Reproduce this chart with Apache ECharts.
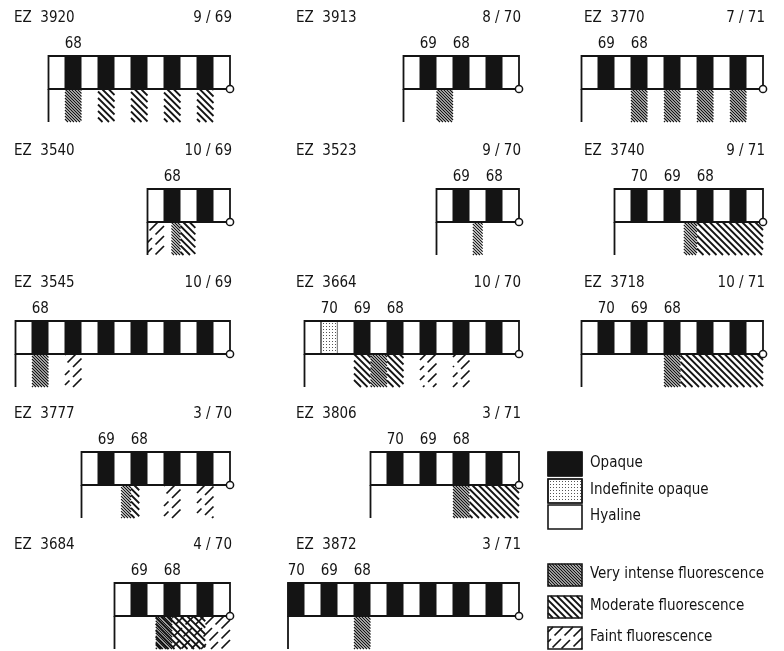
<!DOCTYPE html>
<html><head><meta charset="utf-8">
<script src="https://cdn.jsdelivr.net/npm/echarts@6/dist/echarts.min.js"></script>
<style>html,body{margin:0;padding:0;background:#fff}#c{width:784px;height:651px}</style>
</head><body><div id="c"></div>
<script>
// ---------------- DATA ----------------
const panelNames = ['EZ 3920','EZ 3913','EZ 3770','EZ 3540','EZ 3523','EZ 3740','EZ 3545','EZ 3664','EZ 3718','EZ 3777','EZ 3806','EZ 3684','EZ 3872'];
const panelDates = ['9/69','8/70','7/71','10/69','9/70','9/71','10/69','10/70','10/71','3/70','3/71','4/70','3/71'];
// O = opaque, I = indefinite opaque, H = hyaline (from centre to edge)
const bandSequences = [
  'HOHOHOHOHOH', 'HOHOHOH', 'HOHOHOHOHOH',
  'HOHOH', 'HOHOH', 'HOHOHOHOH',
  'HOHOHOHOHOHOH', 'HIHOHOHOHOHOH', 'HOHOHOHOHOH',
  'HOHOHOHOH', 'HOHOHOHOH',
  'HOHOHOH', 'OHOHOHOHOHOHOH'
];
// [band index, year]
const yearLabels = [
  [[1,'68']], [[1,'69'],[3,'68']], [[1,'69'],[3,'68']],
  [[1,'68']], [[1,'69'],[3,'68']], [[1,'70'],[3,'69'],[5,'68']],
  [[1,'68']], [[1,'70'],[3,'69'],[5,'68']], [[1,'70'],[3,'69'],[5,'68']],
  [[1,'69'],[3,'68']], [[1,'70'],[3,'69'],[5,'68']],
  [[1,'69'],[3,'68']], [[0,'70'],[2,'69'],[4,'68']]
];
// [from band, to band, V = very intense, M = moderate, F = faint]
const fluorescence = [
  [[1,2,'V'],[3,4,'M'],[5,6,'M'],[7,8,'M'],[9,10,'M']],
  [[2,3,'V']],
  [[3,4,'V'],[5,6,'V'],[7,8,'V'],[9,10,'V']],
  [[0,1,'F'],[1.45,2,'V'],[2,2.9,'M']],
  [[2.2,2.8,'V']],
  [[4.2,5,'V'],[5,9,'M']],
  [[1,2,'V'],[3,4,'F']],
  [[3,4,'M'],[4,5,'V'],[5,6,'M'],[7,8,'F'],[9,10,'F']],
  [[5,6,'V'],[6,11,'M']],
  [[2.4,3,'V'],[3,3.5,'M'],[5,6,'F'],[7,8,'F']],
  [[5,6,'V'],[6,9,'M']],
  [[2.5,3.5,'V'],[2.5,5.5,'M'],[3.5,7,'F']],
  [[4,5,'V']]
];
const legendBandKinds = [['O','Opaque'],['I','Indefinite opaque'],['H','Hyaline']];
const legendFluorKinds = [['V','Very intense fluorescence'],['M','Moderate fluorescence'],['F','Faint fluorescence']];

// ---------------- LAYOUT ----------------
const panelCol = [0,1,2,0,1,2,0,1,2,0,1,0,1];
const panelRow = [0,0,0,1,1,1,2,2,2,3,3,4,4];
const colRight = [230,519,763];
const colTitleX = [14,296,584];
const rowTop = [56,189,321,452,583];
const BW = 16.5, BH = 33, SH = 33;
const INK = '#141414';
const FONT = "'DejaVu Sans Condensed','DejaVu Sans',sans-serif";
const FS = 15;

function hatchLines(x0,y0,x1,y1,kind){
  const cfg = {V:{sp:3,lw:1.15,dir:1,dash:null},M:{sp:6.5,lw:1.8,dir:1,dash:null},F:{sp:10,lw:1.7,dir:-1,dash:[12,5]}}[kind];
  const out = [];
  const st = {stroke:INK,lineWidth:cfg.lw,lineDash:cfg.dash};
  if (cfg.dir > 0) {
    const cMin = x0 - y1, cMax = x1 - y0;
    for (let c = Math.ceil(cMin/cfg.sp)*cfg.sp; c <= cMax; c += cfg.sp) {
      const ya = Math.max(y0, x0 - c), yb = Math.min(y1, x1 - c);
      if (yb - ya > 0.8) out.push({type:'line',shape:{x1:ya+c,y1:ya,x2:yb+c,y2:yb},style:st});
    }
  } else {
    const cMin = x0 + y0, cMax = x1 + y1;
    for (let c = Math.ceil(cMin/cfg.sp)*cfg.sp; c <= cMax; c += cfg.sp) {
      const xa = Math.max(x0, c - y1), xb = Math.min(x1, c - y0);
      if (xb - xa > 0.8) out.push({type:'line',shape:{x1:xb,y1:c-xb,x2:xa,y2:c-xa},style:st});
    }
  }
  return out;
}
function dots(x0,y0,x1,y1){
  const out=[];
  for(let y=y0+2;y<y1-1;y+=3) for(let x=x0+2;x<x1-1;x+=3)
    out.push({type:'rect',shape:{x:x,y:y,width:1,height:1},style:{fill:'#555'}});
  return out;
}
function bandShape(kind,x0,y0,x1,y1){
  const w=x1-x0,h=y1-y0;
  if(kind==='O') return [{type:'rect',shape:{x:x0,y:y0,width:w,height:h},style:{fill:INK,stroke:INK,lineWidth:1}}];
  if(kind==='I') return [{type:'rect',shape:{x:x0,y:y0,width:w,height:h},style:{fill:'#fff',stroke:INK,lineWidth:1.2}}].concat(dots(x0,y0,x1,y1));
  return [{type:'rect',shape:{x:x0,y:y0,width:w,height:h},style:{fill:'#fff',stroke:null}}];
}

const grids=[], xAxes=[], yAxes=[], series=[], graphics=[];
panelNames.forEach((name,i)=>{
  const seq = bandSequences[i].split('');
  const n = seq.length;
  const right = colRight[panelCol[i]], top = rowTop[panelRow[i]];
  grids.push({left:right - n*BW, top:top, width:n*BW, height:BH+SH});
  xAxes.push({type:'value',gridIndex:i,min:0,max:n,show:false});
  yAxes.push({type:'value',gridIndex:i,min:-1,max:1,show:false});
  const items=[];
  seq.forEach((k,b)=>items.push({t:'band',k:k,s:b,e:b+1}));
  fluorescence[i].forEach(f=>items.push({t:'fl',k:f[2],s:f[0],e:f[1]}));
  items.push({t:'frame',s:0,e:n});
  yearLabels[i].forEach(l=>items.push({t:'lab',s:l[0],e:l[0]+1,txt:l[1]}));
  series.push({
    type:'custom',xAxisIndex:i,yAxisIndex:i,silent:true,animation:false,
    data:items.map(it=>[it.s,it.e]),
    renderItem:function(params,api){
      const it=items[params.dataIndex];
      const a=api.coord([api.value(0),1]), b=api.coord([api.value(1),0]), c=api.coord([api.value(1),-1]);
      if(it.t==='band') return {type:'group',children:bandShape(it.k,a[0],a[1],b[0],b[1])};
      if(it.t==='fl') return {type:'group',children:hatchLines(a[0],b[1],c[0],c[1],it.k)};
      if(it.t==='lab') return {type:'text',style:{text:it.txt,x:(a[0]+b[0])/2,y:a[1]-12,align:'center',verticalAlign:'middle',font:FS+'px '+FONT,fill:INK}};
      return {type:'group',children:[
        {type:'rect',shape:{x:a[0],y:a[1],width:b[0]-a[0],height:b[1]-a[1]},style:{fill:null,stroke:INK,lineWidth:1.8}},
        {type:'line',shape:{x1:a[0],y1:b[1],x2:a[0],y2:c[1]},style:{stroke:INK,lineWidth:1.8}},
        {type:'circle',shape:{cx:b[0],cy:b[1],r:3.6},style:{fill:'#fff',stroke:INK,lineWidth:1.5}}
      ]};
    }
  });
  graphics.push({type:'text',left:colTitleX[panelCol[i]],top:top-45,style:{text:name.replace(' ','  '),font:FS+'px '+FONT,fill:INK}});
  graphics.push({type:'text',right:784-right-2,top:top-45,style:{text:panelDates[i].replace('/',' / '),font:FS+'px '+FONT,fill:INK}});
});

// legend
const LX=548, LW=34;
const legBandTop=[452,479,505], legFlTop=[564,596,627];
legendBandKinds.forEach((k,j)=>{
  const y0=legBandTop[j], y1=y0+24;
  graphics.push({type:'group',children:bandShape(k[0],LX,y0,LX+LW,y1).concat([{type:'rect',shape:{x:LX,y:y0,width:LW,height:y1-y0},style:{fill:null,stroke:INK,lineWidth:1.6}}])});
  graphics.push({type:'text',left:LX+42,top:y0+4,style:{text:k[1],font:FS+'px '+FONT,fill:INK}});
});
legendFluorKinds.forEach((k,j)=>{
  const y0=legFlTop[j], y1=y0+22;
  graphics.push({type:'group',children:hatchLines(LX,y0,LX+LW,y1,k[0]).concat([{type:'rect',shape:{x:LX,y:y0,width:LW,height:y1-y0},style:{fill:null,stroke:INK,lineWidth:1.6}}])});
  graphics.push({type:'text',left:LX+42,top:y0+3,style:{text:k[1],font:FS+'px '+FONT,fill:INK}});
});

const chart=echarts.init(document.getElementById('c'),null,{renderer:'canvas'});
chart.setOption({backgroundColor:'#fff',animation:false,grid:grids,xAxis:xAxes,yAxis:yAxes,series:series,graphic:graphics});
</script></body></html>
